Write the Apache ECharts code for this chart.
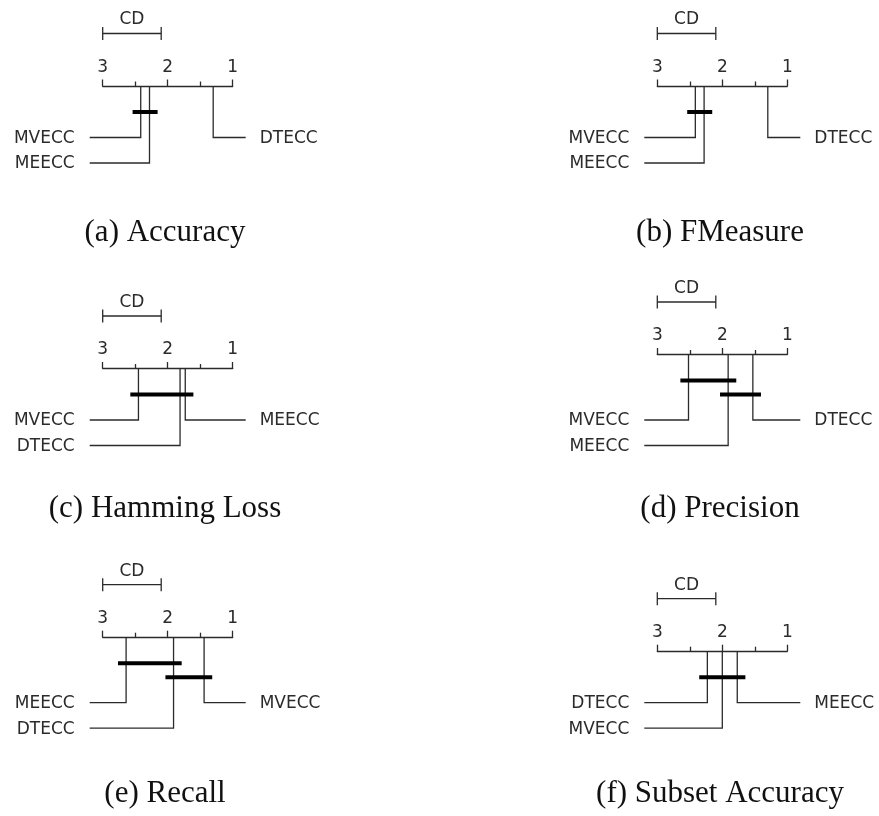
<!DOCTYPE html>
<html>
<head>
<meta charset="utf-8">
<script src="https://cdn.jsdelivr.net/npm/echarts@6/dist/echarts.min.js"></script>
<style>
  html, body { margin: 0; padding: 0; background: #ffffff; }
  #chart { width: 879px; height: 816px; }
</style>
</head>
<body>
<div id="chart"></div>
<script>
// Critical difference diagrams: average ranks of three ensemble classifiers
const methods = ['MVECC', 'MEECC', 'DTECC'];
const captions = ['(a) Accuracy', '(b) FMeasure', '(c) Hamming Loss',
                  '(d) Precision', '(e) Recall', '(f) Subset Accuracy'];
const rankTicks = [1, 2, 3];
const criticalDifference = 0.9;

// Average ranks, in the order of `methods`
const accuracyRanks       = [2.415, 2.28, 1.30];
const fmeasureRanks       = [2.415, 2.28, 1.30];
const hammingLossRanks    = [2.45, 1.73, 1.81];
const precisionRanks      = [2.52, 1.91, 1.53];
const recallRanks         = [1.44, 2.64, 1.91];
const subsetAccuracyRanks = [2.00, 1.77, 2.23];

const panelRanks = [accuracyRanks, fmeasureRanks, hammingLossRanks,
                    precisionRanks, recallRanks, subsetAccuracyRanks];

// ---- layout (pixels) ----
const AXIS_SPAN = 130;             // width of the rank axis
const COL_X = [102.7, 657.3];      // x of the worst rank on each column
const ROW_LABEL_Y = [137.5, 420, 702.7]; // y of the first method label line per row
const CAPTION_X = [165, 720];
const CAPTION_Y = [233, 509, 794];
const BAR_START = 26, BAR_STEP = 14, LABEL_GAP = 25.5, LABEL_STEP = 25.5;
const OVERHANG = 0.2;              // label lines run past the axis ends (rank units)
const BAR_EXT = 0.125;             // clique bars run past their members (rank units)
const INK = '#2b2b2b';
const THIN = 1.3;
const SANS = '17px "DejaVu Sans", sans-serif';

// groups of methods whose ranks differ by less than the critical difference
function cliques(sortedRanks, cd) {
  const n = sortedRanks.length;
  const pairs = [];
  for (let i = 0; i < n; i++)
    for (let j = i + 1; j < n; j++)
      if (Math.abs(sortedRanks[i] - sortedRanks[j]) <= cd) pairs.push([i, j]);
  return pairs.filter(([i, j]) => !pairs.some(([a, b]) =>
    (a <= i && b > j) || (a < i && b >= j)));
}

const grids = [], xAxes = [], yAxes = [], series = [], graphics = [];

panelRanks.forEach((ranks, p) => {
  const col = p % 2, row = Math.floor(p / 2);
  const order = methods.map((m, i) => ({ name: m, rank: ranks[i] }))
                       .sort((a, b) => b.rank - a.rank);
  const k = order.length;
  const nLeft = Math.ceil(k / 2);
  const groups = cliques(order.map(o => o.rank), criticalDifference);
  const nb = Math.max(groups.length, 1);
  const label0 = BAR_START + BAR_STEP * (nb - 1) + LABEL_GAP;
  const axisY = ROW_LABEL_Y[row] - label0;

  grids.push({ left: COL_X[col], top: axisY, width: AXIS_SPAN, height: 100,
               containLabel: false, outerBoundsMode: 'none' });
  xAxes.push({
    gridIndex: p, type: 'value', position: 'top', inverse: true,
    min: rankTicks[0], max: rankTicks[rankTicks.length - 1], interval: 1,
    axisLine: { show: true, onZero: false, lineStyle: { color: INK, width: THIN } },
    axisTick: { show: true, inside: false, length: 6.5, lineStyle: { color: INK, width: THIN } },
    minorTick: { show: true, splitNumber: 2, length: 4.5, lineStyle: { color: INK, width: THIN } },
    axisLabel: { show: true, margin: 10, color: INK, fontFamily: 'DejaVu Sans', fontSize: 17,
                 formatter: v => String(Math.round(v)) },
    splitLine: { show: false }, minorSplitLine: { show: false }
  });
  yAxes.push({ gridIndex: p, type: 'value', min: 0, max: 100, inverse: true, show: false,
               splitLine: { show: false } });

  // method lines and names
  const items = order.map((o, i) => {
    const left = i < nLeft;
    const y = label0 + LABEL_STEP * (left ? i : (k - i - 1));
    return { name: o.name, rank: o.rank, y, left };
  });
  series.push({
    type: 'custom', xAxisIndex: p, yAxisIndex: p, silent: true, animation: false, clip: false,
    data: items.map(it => [it.rank, it.y]),
    renderItem(params, api) {
      const it = items[params.dataIndex];
      const a = api.coord([it.rank, 0]);
      const b = api.coord([it.rank, it.y]);
      const c = api.coord([it.left ? 3 + OVERHANG : 1 - OVERHANG, it.y]);
      return { type: 'group', children: [
        { type: 'polyline', shape: { points: [a, b, c] },
          style: { stroke: INK, lineWidth: THIN, fill: null } },
        { type: 'text', style: {
            text: it.name, x: c[0] + (it.left ? -15 : 14), y: c[1] + 1,
            textAlign: it.left ? 'right' : 'left', textVerticalAlign: 'middle',
            align: it.left ? 'right' : 'left', verticalAlign: 'middle',
            font: SANS, fill: INK } }
      ] };
    }
  });

  // bars joining methods that are not significantly different
  const bars = groups.map((g, j) => [order[g[0]].rank + BAR_EXT, order[g[1]].rank - BAR_EXT,
                                     BAR_START + BAR_STEP * j]);
  series.push({
    type: 'custom', xAxisIndex: p, yAxisIndex: p, silent: true, animation: false, clip: false,
    data: bars,
    renderItem(params, api) {
      const a = api.coord([api.value(0), api.value(2)]);
      const b = api.coord([api.value(1), api.value(2)]);
      return { type: 'line', shape: { x1: a[0], y1: a[1], x2: b[0], y2: b[1] },
               style: { stroke: '#000', lineWidth: 4 } };
    }
  });

  // critical difference scale above the axis
  series.push({
    type: 'custom', xAxisIndex: p, yAxisIndex: p, silent: true, animation: false, clip: false,
    data: [[3, 3 - criticalDifference, -52.5]],
    renderItem(params, api) {
      const a = api.coord([api.value(0), api.value(2)]);
      const b = api.coord([api.value(1), api.value(2)]);
      const st = { stroke: INK, lineWidth: THIN };
      return { type: 'group', children: [
        { type: 'line', shape: { x1: a[0], y1: a[1], x2: b[0], y2: b[1] }, style: st },
        { type: 'line', shape: { x1: a[0], y1: a[1] - 6.5, x2: a[0], y2: a[1] + 6.5 }, style: st },
        { type: 'line', shape: { x1: b[0], y1: b[1] - 6.5, x2: b[0], y2: b[1] + 6.5 }, style: st },
        { type: 'text', style: { text: 'CD', x: (a[0] + b[0]) / 2, y: a[1] - 13.5,
            textAlign: 'center', textVerticalAlign: 'middle', align: 'center', verticalAlign: 'middle',
            font: SANS, fill: INK } }
      ] };
    }
  });

  graphics.push({
    type: 'text', x: CAPTION_X[col], y: CAPTION_Y[row], silent: true,
    style: { text: captions[p], font: '31px "Liberation Serif", serif', fill: '#111',
             textAlign: 'center', textVerticalAlign: 'middle', align: 'center', verticalAlign: 'middle' }
  });
});

const chart = echarts.init(document.getElementById('chart'), null, { renderer: 'canvas' });
chart.setOption({
  backgroundColor: '#ffffff',
  animation: false,
  grid: grids,
  xAxis: xAxes,
  yAxis: yAxes,
  series: series,
  graphic: graphics
});
</script>
</body>
</html>
